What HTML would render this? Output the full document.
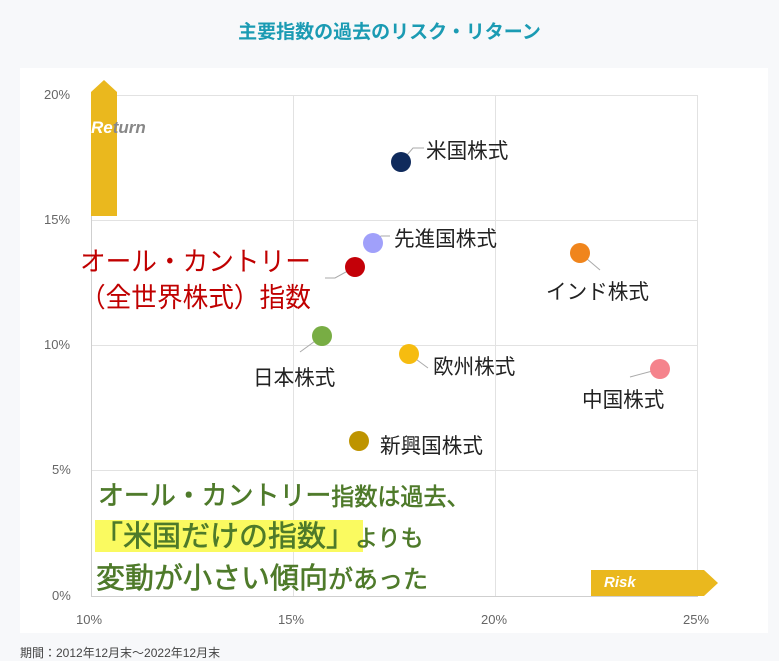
<!DOCTYPE html>
<html><head><meta charset="utf-8"><style>
body{margin:0;width:779px;height:660px;background:#f7f8fa;font-family:"Liberation Sans","Noto Sans CJK JP",sans-serif;position:relative;overflow:hidden}
.a{position:absolute;white-space:nowrap}
.l{font-size:21px;color:#222;transform:scaleX(0.98);transform-origin:left}
.g{color:#4e7a2a;-webkit-text-stroke:0.6px #4e7a2a;line-height:1}
.g span{font-size:24px}
</style></head><body>
<div class="a" style="left:0;width:779px;top:17px;text-align:center;font-size:19px;font-weight:bold;color:#1b9bb3">主要指数の過去のリスク・リターン</div>
<div class="a" style="left:20px;top:68px;width:748px;height:565px;background:#fff"></div>
<svg class="a" style="left:0;top:0" width="779" height="660">
<g stroke="#e2e2e2" stroke-width="1">
<line x1="91" y1="95.5" x2="698" y2="95.5"/><line x1="91" y1="220.5" x2="698" y2="220.5"/>
<line x1="91" y1="345.5" x2="698" y2="345.5"/><line x1="91" y1="470.5" x2="698" y2="470.5"/>
<line x1="293.5" y1="95" x2="293.5" y2="596"/><line x1="495.5" y1="95" x2="495.5" y2="596"/>
<line x1="697.5" y1="95" x2="697.5" y2="596"/>
</g>
<g stroke="#cfcfcf"><line x1="91.5" y1="95" x2="91.5" y2="596"/><line x1="91" y1="596.5" x2="698" y2="596.5"/></g>
<polygon points="91,216 91,92 104,80 117,92 117,216" fill="#eab81e"/>
<polygon points="591,570 704,570 718,583 704,596 591,596" fill="#eab81e"/>
<g stroke="#aaa" stroke-width="1" fill="none">
<polyline points="401,162 413,148 424,148"/><polyline points="373,243 381,236 390,236"/>
<polyline points="355,267 335,278 325,278"/><polyline points="322,336 300,352"/>
<polyline points="409,354 428,368"/><polyline points="580,253 600,270"/>
<polyline points="660,369 630,377"/>
</g>
<circle cx="401" cy="162" r="10" fill="#0f2a5c"/>
<circle cx="373" cy="243" r="10" fill="#a0a0fa"/>
<circle cx="355" cy="267" r="10" fill="#c40008"/>
<circle cx="322" cy="336" r="10" fill="#78ad44"/>
<circle cx="409" cy="354" r="10" fill="#f6bc10"/>
<circle cx="359" cy="441" r="10" fill="#be9400"/>
<circle cx="580" cy="253" r="10" fill="#f0851c"/>
<circle cx="660" cy="369" r="10" fill="#f5838c"/>
</svg>
<div class="a" style="left:91px;top:118px;font-size:17px;font-weight:bold;font-style:italic;color:#888"><span style="color:#fff">Re</span>turn</div>
<div class="a" style="left:604px;top:574px;font-size:15px;font-weight:bold;font-style:italic;color:#fff">Risk</div>
<div class="a" style="left:44px;top:87px;font-size:13px;color:#666">20%</div>
<div class="a" style="left:44px;top:212px;font-size:13px;color:#666">15%</div>
<div class="a" style="left:44px;top:337px;font-size:13px;color:#666">10%</div>
<div class="a" style="left:52px;top:462px;font-size:13px;color:#666">5%</div>
<div class="a" style="left:52px;top:588px;font-size:13px;color:#666">0%</div>
<div class="a" style="left:76px;top:612px;font-size:13px;color:#666">10%</div>
<div class="a" style="left:278px;top:612px;font-size:13px;color:#666">15%</div>
<div class="a" style="left:481px;top:612px;font-size:13px;color:#666">20%</div>
<div class="a" style="left:683px;top:612px;font-size:13px;color:#666">25%</div>
<div class="a l" style="left:426px;top:135px">米国株式</div>
<div class="a l" style="left:394px;top:223px">先進国株式</div>
<div class="a l" style="left:253px;top:362px">日本株式</div>
<div class="a l" style="left:433px;top:351px">欧州株式</div>
<div class="a l" style="left:380px;top:430px">新興国株式</div>
<div class="a l" style="left:546px;top:276px">インド株式</div>
<div class="a l" style="left:582px;top:384px">中国株式</div>
<div class="a" style="left:80px;top:244px;font-size:27px;line-height:36px;color:#c00000;transform:scaleX(0.95);transform-origin:left">オール・カントリー<br>（全世界株式）指数</div>
<div class="a" style="left:95px;top:520px;width:268px;height:32px;background:#fafa60"></div>
<div class="a g" style="left:98px;top:483px;font-size:27px;transform:scaleX(0.96);transform-origin:left">オール・カントリー<span>指数は過去、</span></div>
<div class="a g" style="left:94px;top:523px;font-size:29px">「米国だけの指数」<span style="font-size:23px">よりも</span></div>
<div class="a g" style="left:96px;top:565px;font-size:29px">変動が小さい傾向<span style="font-size:25px">があった</span></div>
<div class="a" style="left:20px;top:644px;font-size:12px;color:#444">期間：2012年12月末～2022年12月末</div>
</body></html>
